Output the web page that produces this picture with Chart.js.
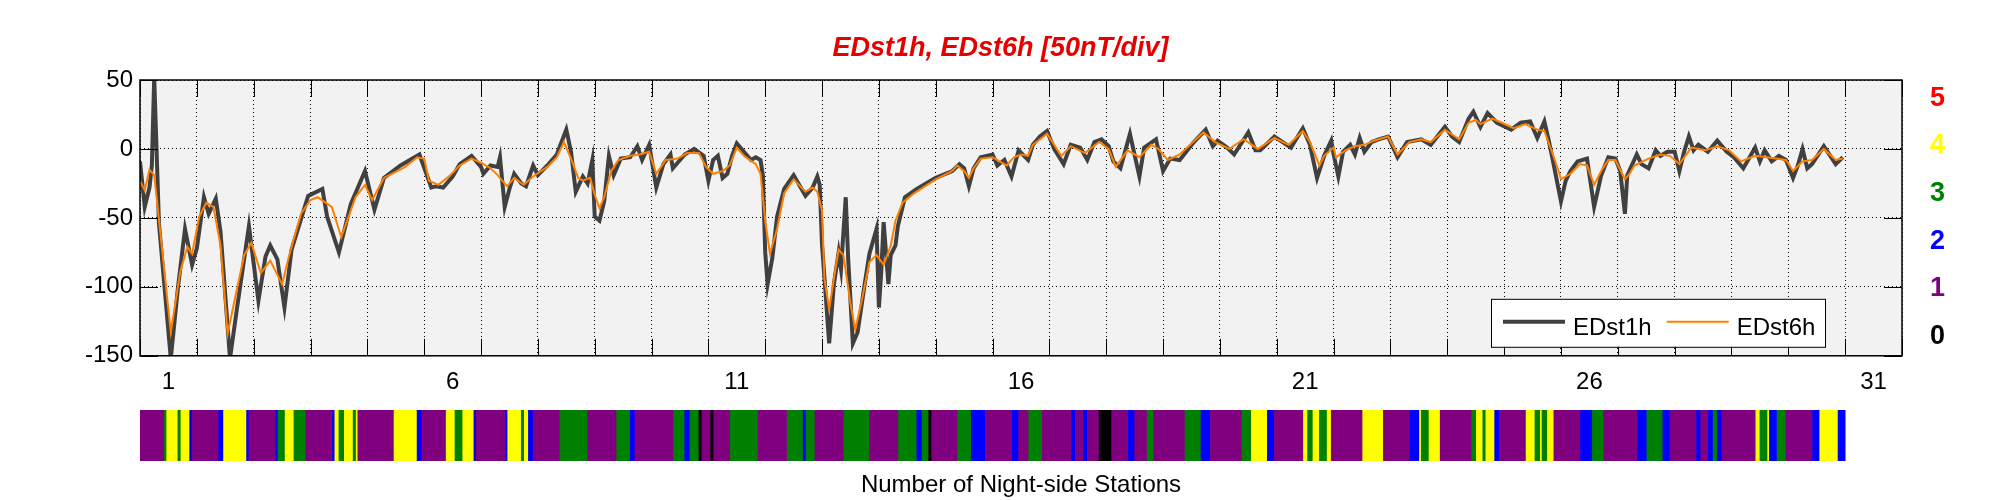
<!DOCTYPE html>
<html>
<head>
<meta charset="utf-8">
<title>EDst1h, EDst6h</title>
<script src="https://cdn.jsdelivr.net/npm/chart.js@4.4.1/dist/chart.umd.min.js"></script>
<style>
  html, body { margin: 0; padding: 0; background: #fff; }
  #wrap { position: relative; width: 2001px; height: 500px; }
  #mainChart { position: absolute; left: 0; top: 0; }
  #barChart { position: absolute; left: 0; top: 400px; }
</style>
</head>
<body>
<div id="wrap">
  <canvas id="mainChart" width="2001" height="400"></canvas>
  <canvas id="barChart" width="2001" height="100"></canvas>
</div>
<script>
const FONT = "'Liberation Sans', Arial, Helvetica, sans-serif";

// [hour since start of month, nT]
const edst1h = [
  [0,-9],[2,-42],[4,-28],[5,-12],[6,52],[8,-54],[13,-152],[16,-101],[19,-58],[22,-84],[24,-72],[27,-35],[29,-47],[32,-36],[34,-60],[38,-152],[41,-115],[46,-56],[50,-110],[53,-78],[55,-70],[58,-80],[61,-115],[64,-73],[71,-34],[77,-29],[79,-49],[84,-75],[89,-40],[95,-16],[99,-44],[103,-21],[110,-12],[118,-4],[123,-28],
  [125,-27],[128,-28],[132,-20],[135,-11],[140,-5],[144,-13],[145,-18],[148,-12],[151,-13],[152,-6],[154,-42],[156,-29],[158,-18],[161,-25],[163,-27],[166,-12],[168,-19],[172,-12],[176,-4],[180,14],[182,-2],[184,-31],[187,-20],[189,-25],[191,-8],[192,-49],[194,-52],[196,-38],[198,-5],[200,-19],[203,-7],[207,-6],[210,2],[212,-8],[215,3],[218,-28],[221,-11],[224,-4],[225,-14],[230,-4],[234,0],[238,-5],[240,-23],[242,-8],[244,-5],[246,-21],[248,-18],[250,-5],
  [252,4],[255,-2],[258,-8],[260,-6],[262,-8],[263,-19],[264,-75],[265,-98],[267,-79],[269,-49],[272,-29],[276,-19],[281,-34],[284,-28],[286,-20],[287,-26],[288,-70],[290,-117],[291,-141],[293,-98],[295,-75],[296,-87],[298,-35],[299,-79],[301,-141],[303,-133],[306,-98],[308,-76],[311,-58],[312,-115],[313,-89],[314,-53],[316,-98],[317,-77],[319,-70],[320,-56],[323,-35],[328,-29],[336,-21],[343,-16],[346,-11],[348,-14],[350,-27],[352,-14],[355,-6],[360,-4],[362,-12],[365,-8],[368,-20],[371,-1],[375,-8],
  [377,3],[380,9],[383,13],[386,0],[390,-11],[393,3],[397,1],[400,-8],[403,5],[406,7],[409,2],[411,-9],[414,-14],[418,11],[422,-20],[424,1],[429,7],[432,-16],[435,-7],[439,-8],[445,5],[450,14],[453,2],[455,6],[459,1],[462,-4],[468,12],[471,-1],[473,-1],[479,9],[486,1],[491,15],[494,3],[497,-21],[500,-5],[503,6],
  [504,-4],[506,-20],[508,-2],[511,3],[513,-4],[515,8],[517,-2],[520,5],[523,7],[527,9],[531,-6],[535,5],[541,7],[545,3],[551,16],[554,9],[557,5],[561,22],[563,27],[566,16],[569,26],[573,19],[579,14],[583,19],[587,20],[590,8],[593,20],[595,5],[597,-12],[600,-38],[602,-23],[604,-16],[607,-9],[611,-7],[614,-42],[617,-19],[620,-6],[623,-7],[625,-16],[627,-47],
  [628,-19],[632,-4],[634,-11],[637,-14],[640,-1],[642,-5],[645,-2],[648,-2],[650,-16],[652,-2],[654,9],[656,-1],[658,3],[662,-2],[666,6],[670,-2],[673,-6],[677,-14],[682,1],[684,-9],[686,-1],[689,-9],[692,-5],[695,-8],[698,-21],[700,-12],[702,0],[704,-14],[706,-11],[711,2],[716,-11],[719,-6]
];

const edst6h = [
  [0,-23],[2,-30],[4,-15],[6,-19],[8,-51],[13,-133],[17,-89],[20,-71],[22,-76],[25,-49],[28,-39],[31,-42],[34,-70],[37,-134],[41,-101],[44,-77],[47,-68],[51,-90],[55,-81],[60,-98],[63,-77],[68,-47],[72,-37],[75,-35],[81,-42],[85,-64],[91,-35],[95,-26],[98,-37],[103,-21],[112,-13],[117,-6],[120,-7],[122,-23],
  [126,-26],[131,-19],[135,-12],[140,-7],[144,-10],[148,-14],[151,-19],[155,-27],[158,-21],[162,-26],[166,-20],[172,-13],[176,-6],[179,5],[182,-7],[185,-21],[187,-23],[190,-21],[192,-33],[194,-43],[196,-35],[199,-16],[202,-8],[207,-5],[211,-4],[215,-2],[218,-18],[222,-8],[227,-7],[231,-3],[236,-3],[239,-13],[242,-18],[246,-16],[249,-12],
  [252,1],[255,-5],[260,-11],[262,-18],[264,-52],[266,-76],[269,-58],[272,-32],[276,-22],[281,-31],[284,-28],[286,-31],[288,-45],[289,-94],[291,-116],[293,-94],[295,-73],[297,-77],[300,-112],[302,-131],[305,-108],[308,-82],[311,-77],[314,-84],[317,-70],[319,-52],[322,-39],[327,-32],[336,-22],[343,-16],[345,-12],[348,-16],[350,-21],[352,-14],[355,-7],[360,-6],[363,-9],[366,-12],[369,-6],[372,-4],[375,-5],
  [377,3],[383,11],[389,-5],[393,2],[399,-3],[405,5],[409,0],[412,-13],[417,-1],[422,-6],[427,3],[430,0],[434,-8],[439,-4],[449,12],[454,5],[460,0],[466,7],[472,0],[479,8],[485,3],[491,13],[494,5],[498,-12],[500,-5],
  [504,1],[505,-6],[509,-1],[513,2],[517,3],[521,6],[527,9],[531,-4],[536,5],[541,7],[545,5],[551,14],[557,7],[561,19],[564,21],[566,18],[571,22],[575,19],[580,15],[585,18],[590,14],[593,13],[596,-1],[599,-16],[600,-22],[604,-18],[608,-11],[611,-12],[614,-26],[617,-16],[620,-8],[623,-8],[627,-22],
  [629,-18],[631,-12],[637,-7],[642,-4],[646,-5],[650,-11],[655,1],[661,-1],[666,2],[671,-1],[676,-9],[682,-5],[687,-6],[695,-8],[698,-16],[702,-9],[706,-8],[711,0],[716,-8],[719,-7]
];

const dayLabels = ['1', '6', '11', '16', '21', '26', '31'];
const yTicks = [-150, -100, -50, 0, 50];

// number of night-side stations -> colour
const stationCounts = [0, 1, 2, 3, 4, 5];
const stationColors = ['#000000', '#800080', '#0000ff', '#008000', '#ffff00', '#ff0000'];

// hourly station counts as runs: [count, hours]
const stationRuns = [
  [1,10],[3,1],[4,5],[3,1],[4,4],[2,1],[1,11],[2,2],[4,10],[2,1],[1,11],[2,1],[3,3],[4,4],[3,5],[1,11],[2,1],[4,2],[3,2],[4,4],[3,1],[4,1],
  [1,15],[4,10],[2,2],[1,10],[4,4],[3,3],[4,5],[2,1],[1,12],[2,1],[4,6],[3,1],[4,2],[2,2],[1,11],[3,12],[1,12],[3,6],[2,2],[1,16],
  [3,5],[2,2],[3,4],[0,1],[1,4],[0,1],[1,7],[3,12],[1,12],[3,7],[2,1],[3,4],[1,12],[3,11],[1,12],[3,8],[2,2],[3,3],[0,1],[1,11],
  [3,6],[2,6],[1,11],[2,3],[1,4],[3,6],[1,12],[2,2],[1,3],[2,2],[1,5],[0,5],[1,7],[2,3],[1,5],[3,3],[1,13],[3,7],[2,4],[1,13],
  [3,4],[4,7],[2,3],[1,12],[4,2],[3,2],[4,3],[3,3],[4,2],[1,13],[4,9],[1,11],[2,4],[4,1],[3,3],[4,5],[1,13],[3,2],[4,3],[3,1],
  [4,4],[2,2],[1,11],[4,4],[3,2],[4,1],[3,2],[4,3],[1,11],[2,5],[3,5],[1,14],[2,4],[3,7],[2,3],[1,11],[2,2],[1,3],[2,2],[3,2],
  [2,2],[1,14],[4,2],[3,3],[4,1],[2,3],[3,4],[1,11],[2,3],[4,8],[2,3]
];

Chart.defaults.font.family = FONT;
Chart.defaults.color = '#000';

const toXY = rows => rows.map(r => ({ x: r[0], y: r[1] }));

// plot background, box, inward tick marks
const boxAxes = {
  id: 'boxAxes',
  beforeDraw(chart) {
    const { ctx, chartArea: a } = chart;
    ctx.save();
    ctx.fillStyle = '#f2f2f2';
    ctx.fillRect(a.left, a.top, a.right - a.left, a.bottom - a.top);
    ctx.restore();
  },
  afterDatasetsDraw(chart) {
    const { ctx, chartArea: a, scales } = chart;
    ctx.save();
    ctx.strokeStyle = '#000';
    ctx.lineWidth = 1;
    ctx.beginPath();
    scales.x.ticks.forEach(t => {
      if (t.value % 24 !== 0) return;
      const px = Math.round(scales.x.getPixelForValue(t.value)) + 0.5;
      ctx.moveTo(px, a.bottom); ctx.lineTo(px, a.bottom - 17);
      ctx.moveTo(px, a.top); ctx.lineTo(px, a.top + 17);
    });
    scales.y.ticks.forEach(t => {
      const py = Math.round(scales.y.getPixelForValue(t.value)) + 0.5;
      ctx.moveTo(a.left, py); ctx.lineTo(a.left + 18, py);
      ctx.moveTo(a.right, py); ctx.lineTo(a.right - 18, py);
    });
    ctx.stroke();
    ctx.lineWidth = 1.5;
    ctx.strokeRect(a.left, a.top, a.right - a.left, a.bottom - a.top);
    ctx.restore();
  }
};

// legend box in the lower right corner of the plot
const boxLegend = {
  id: 'boxLegend',
  afterDraw(chart) {
    const { ctx, chartArea: a } = chart;
    const ds = chart.data.datasets;
    const w = 334, h = 48;
    const x0 = a.right - 77 - w, y0 = a.bottom - 9 - h;
    ctx.save();
    ctx.fillStyle = '#fff';
    ctx.fillRect(x0, y0, w, h);
    ctx.strokeStyle = '#000';
    ctx.lineWidth = 1;
    ctx.strokeRect(x0 + 0.5, y0 + 0.5, w, h);
    ctx.font = '24px ' + FONT;
    ctx.textBaseline = 'alphabetic';
    let x = x0 + 12;
    ds.forEach(d => {
      ctx.strokeStyle = d.borderColor;
      ctx.lineWidth = d.borderWidth;
      ctx.beginPath();
      ctx.moveTo(x, y0 + 23);
      ctx.lineTo(x + 62, y0 + 23);
      ctx.stroke();
      ctx.fillStyle = '#000';
      ctx.fillText(d.label, x + 70, y0 + 36);
      x += 70 + ctx.measureText(d.label).width + 15;
    });
    ctx.restore();
  }
};

new Chart(document.getElementById('mainChart'), {
  type: 'line',
  data: {
    datasets: [
      { label: 'EDst1h', data: toXY(edst1h), borderColor: '#404040', borderWidth: 4,
        pointRadius: 0, tension: 0, clip: 0, order: 2 },
      { label: 'EDst6h', data: toXY(edst6h), borderColor: '#ff8000', borderWidth: 2,
        pointRadius: 0, tension: 0, clip: 0, order: 1 }
    ]
  },
  options: {
    responsive: false,
    animation: false,
    parsing: false,
    layout: { padding: 0 },
    plugins: {
      legend: { display: false },
      tooltip: { enabled: false },
      title: {
        display: true,
        text: 'EDst1h, EDst6h [50nT/div]',
        color: '#e60000',
        font: { size: 27, weight: 'bold', style: 'italic' },
        padding: { top: 32, bottom: 15.6 }
      }
    },
    scales: {
      x: {
        type: 'linear',
        min: 0,
        max: 744,
        afterBuildTicks: s => { s.ticks = []; for (let v = 0; v <= 744; v += 12) s.ticks.push({ value: v }); },
        afterFit: s => { s.height = 35; },
        grid: {
          color: c => (c.tick && c.tick.value % 24 === 0) ? '#000' : 'rgba(0,0,0,0)',
          lineWidth: 1,
          drawTicks: false
        },
        border: { display: false, dash: [1, 3] },
        ticks: {
          autoSkip: false,
          maxRotation: 0,
          padding: 12,
          font: { size: 24 },
          callback: v => {
            const k = (v - 12) / 120;
            return Number.isInteger(k) && dayLabels[k] ? dayLabels[k] : '';
          }
        }
      },
      y: {
        min: -150,
        max: 50,
        afterBuildTicks: s => { s.ticks = yTicks.map(v => ({ value: v })); },
        afterFit: s => { s.width = 140; },
        grid: { color: '#000', lineWidth: 1, drawTicks: false },
        border: { display: false, dash: [1, 3] },
        ticks: { padding: 7, font: { size: 24 } }
      },
      yr: {
        position: 'right',
        min: -0.406,
        max: 5.386,
        afterBuildTicks: s => { s.ticks = stationCounts.map(v => ({ value: v })); },
        afterFit: s => { s.width = 99; },
        grid: { display: false, drawTicks: false },
        border: { display: false },
        ticks: {
          padding: 28,
          font: { size: 27, weight: 'bold' },
          color: c => stationColors[c.tick.value]
        }
      }
    }
  },
  plugins: [boxAxes, boxLegend]
});

// colour strip of night-side station numbers
let hourPos = 0;
const stripData = stationCounts.map(() => []);
stationRuns.forEach(([n, len]) => {
  stripData[n].push({ x: [hourPos, hourPos + len], y: 'n' });
  hourPos += len;
});

new Chart(document.getElementById('barChart'), {
  type: 'bar',
  data: {
    labels: ['n'],
    datasets: stationCounts.map(n => ({
      label: String(n),
      data: stripData[n],
      backgroundColor: stationColors[n],
      borderWidth: 0,
      grouped: false,
      barPercentage: 1,
      categoryPercentage: 1
    }))
  },
  options: {
    indexAxis: 'y',
    responsive: false,
    animation: false,
    layout: { padding: { left: 140, right: 99, top: 10, bottom: 0 } },
    plugins: { legend: { display: false }, tooltip: { enabled: false } },
    scales: {
      x: {
        type: 'linear',
        min: 0,
        max: 744,
        afterFit: s => { s.height = 39; },
        grid: { display: false, drawTicks: false },
        border: { display: false },
        ticks: { display: false },
        title: {
          display: true,
          text: 'Number of Night-side Stations',
          font: { size: 24 },
          padding: { top: 0, bottom: 0.6 }
        }
      },
      y: { display: false }
    }
  }
});
</script>
</body>
</html>
